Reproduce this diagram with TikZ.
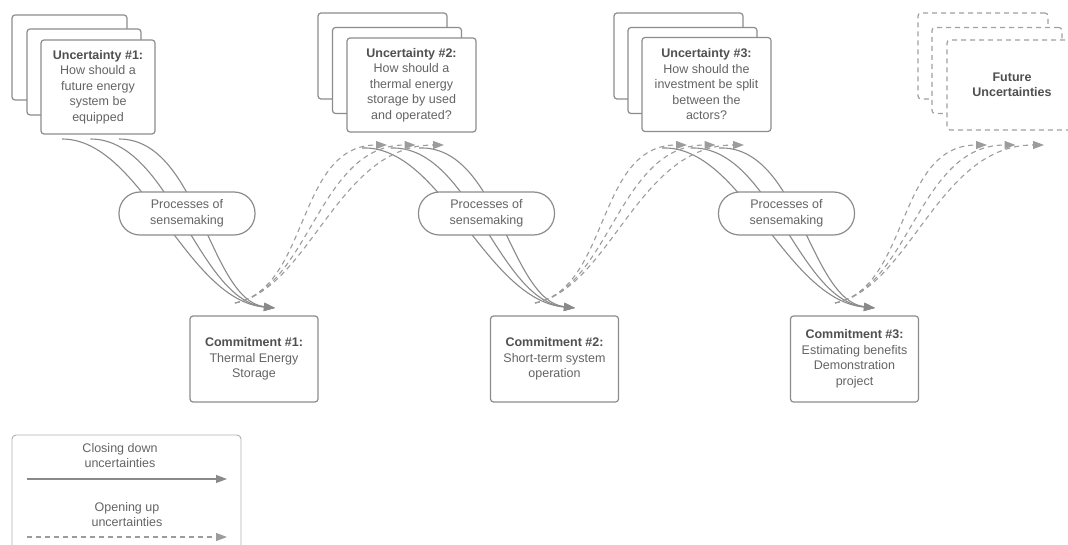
\documentclass[tikz,border=0pt]{standalone}
\usepackage{fontspec}
\setmainfont{Liberation Sans}
\usetikzlibrary{arrows.meta,calc}
\definecolor{bordo}{HTML}{8C8C8C}
\definecolor{linea}{HTML}{8A8A8A}
\definecolor{testo}{HTML}{646464}
\definecolor{titolo}{HTML}{505050}
\newcommand{\intest}[1]{{\bfseries\color{titolo}#1}}
\tikzstyle{uncert} = [rectangle, rounded corners=3pt, minimum width=129pt, minimum height=94pt, draw=bordo, line width=1.2pt, fill=white, text=testo, align=center, font=\fontsize{12.5}{15.5}\selectfont]
\tikzstyle{retro} = [uncert, minimum height=86pt]
\tikzstyle{futuro} = [uncert, dash pattern=on 5pt off 4pt, draw=linea!80, minimum width=130pt, minimum height=90pt]
\tikzstyle{commit} = [uncert, minimum width=128pt, minimum height=86pt]
\tikzstyle{process} = [uncert, rounded corners=21pt, minimum width=136pt, minimum height=43pt]
\tikzstyle{legenda} = [rectangle, rounded corners=4pt, minimum width=229pt, minimum height=125pt, draw=bordo!70, line width=0.9pt]
\tikzstyle{etich} = [align=center, text=testo, font=\fontsize{12.5}{15.5}\selectfont]
\tikzstyle{closing} = [draw=linea, line width=1.1pt, -{Triangle[length=11pt,width=8pt]}]
\tikzstyle{opening} = [closing, draw=linea!85, dash pattern=on 5pt off 4pt]
\begin{document}
\begin{tikzpicture}[x=1pt, y=-1pt]
\clip (0,0) rectangle (1068,545);
\node (u1c) at (69.5,57.5) [retro, minimum width=115pt, minimum height=85pt] {};
\node (u1b) at (84,72) [retro, minimum width=114pt] {};
\node (u1) at (98,87) [uncert, minimum width=114pt] {\intest{Uncertainty \#1:}\\How should a\\future energy\\system be\\equipped};
\node (u2c) at (382.5,56) [retro] {};
\node (u2b) at (397,70.5) [retro] {};
\node (u2) at (411.5,85) [uncert] {\intest{Uncertainty \#2:}\\How should a\\thermal energy\\storage by used\\and operated?};
\node (u3c) at (678.5,56) [retro] {};
\node (u3b) at (692.5,70.5) [retro] {};
\node (u3) at (706.5,84.5) [uncert] {\intest{Uncertainty \#3:}\\How should the\\investment be split\\between the\\actors?};
\node (fc) at (983,56) [futuro, minimum height=86pt] {};
\node (fb) at (997,70.5) [futuro, minimum height=86pt] {};
\node (f) at (1012,85) [futuro] {\intest{Future}\\\intest{Uncertainties}};
\node (c1) at (254,359) [commit] {\intest{Commitment \#1:}\\Thermal Energy\\Storage};
\node (c2) at (554.5,359) [commit] {\intest{Commitment \#2:}\\Short-term system\\operation};
\node (c3) at (854.5,359) [commit] {\intest{Commitment \#3:}\\Estimating benefits\\Demonstration\\project};
\coordinate (a1) at (62,139);
\coordinate (a2) at (90.5,139);
\coordinate (a3) at (119,139);
\coordinate (a4) at (362,148);
\coordinate (a5) at (390.5,148);
\coordinate (a6) at (419,148);
\coordinate (a7) at (662,148);
\coordinate (a8) at (690.5,148);
\coordinate (a9) at (719,148);
\coordinate (k1) at (275,308);
\coordinate (k2) at (575,308);
\coordinate (k3) at (875,308);
\coordinate (o1) at (235,303);
\coordinate (o2) at (535,303);
\coordinate (o3) at (835,303);
\coordinate (t1) at (387,145);
\coordinate (t2) at (415.5,145);
\coordinate (t3) at (444,145);
\coordinate (t4) at (687,145);
\coordinate (t5) at (715.5,145);
\coordinate (t6) at (744,145);
\coordinate (t7) at (987,145);
\coordinate (t8) at (1015.5,145);
\coordinate (t9) at (1044,145);
\draw[closing] (a1) .. controls +(80,0) and +(-90,-8) .. (k1);
\draw[closing] (a2) .. controls +(80,0) and +(-78,-8) .. (k1);
\draw[closing] (a3) .. controls +(80,0) and +(-66,-8) .. (k1);
\draw[closing] (a4) .. controls +(80,-3) and +(-90,-8) .. (k2);
\draw[closing] (a5) .. controls +(80,-3) and +(-78,-8) .. (k2);
\draw[closing] (a6) .. controls +(80,-3) and +(-66,-8) .. (k2);
\draw[closing] (a7) .. controls +(80,-3) and +(-90,-8) .. (k3);
\draw[closing] (a8) .. controls +(80,-3) and +(-78,-8) .. (k3);
\draw[closing] (a9) .. controls +(80,-3) and +(-66,-8) .. (k3);
\draw[opening] (o1) .. controls +(75,-15) and +(-91,0) .. (t1);
\draw[opening] (o1) .. controls +(75,-15) and +(-97,0) .. (t2);
\draw[opening] (o1) .. controls +(75,-15) and +(-106,0) .. (t3);
\draw[opening] (o2) .. controls +(75,-15) and +(-91,0) .. (t4);
\draw[opening] (o2) .. controls +(75,-15) and +(-97,0) .. (t5);
\draw[opening] (o2) .. controls +(75,-15) and +(-106,0) .. (t6);
\draw[opening] (o3) .. controls +(75,-15) and +(-91,0) .. (t7);
\draw[opening] (o3) .. controls +(75,-15) and +(-97,0) .. (t8);
\draw[opening] (o3) .. controls +(75,-15) and +(-106,0) .. (t9);
\node (p1) at (187,213.5) [process] {Processes of\\sensemaking};
\node (p2) at (486.5,213.5) [process] {Processes of\\sensemaking};
\node (p3) at (786.5,213.5) [process] {Processes of\\sensemaking};
\node (leg) at (126.5,497.5) [legenda] {};
\node (l1) at (120,455.5) [etich] {Closing down\\uncertainties};
\node (l2) at (127,514.5) [etich] {Opening up\\uncertainties};
\coordinate (la) at (27,479);
\coordinate (lb) at (227,479);
\coordinate (lc) at (27,537);
\coordinate (ld) at (227,537);
\draw[closing] (la) -- (lb);
\draw[opening] (lc) -- (ld);
\end{tikzpicture}
\end{document}
